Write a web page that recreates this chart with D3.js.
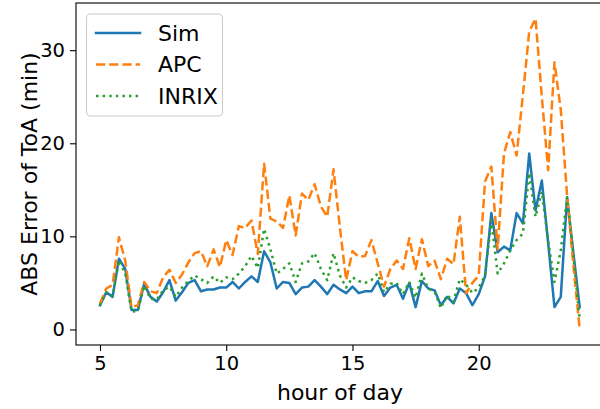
<!DOCTYPE html>
<html><head><meta charset="utf-8">
<script src="https://cdn.jsdelivr.net/npm/d3@7"></script>
<style>html,body{margin:0;padding:0;background:#fff;overflow:hidden}</style>
</head><body>
<svg id="chart" width="600" height="409"></svg>
<script>
const hours = d3.range(77).map(i => 5 + i * 0.25);
const seriesNames = ["Sim", "APC", "INRIX"];
const sim = [2.6,4.0,3.5,7.6,6.5,2.1,2.1,4.9,3.5,3.0,4.0,5.3,3.1,4.0,5.0,5.3,4.1,4.3,4.3,4.5,4.5,5.1,4.4,5.1,5.7,5.1,8.4,7.2,4.4,5.1,5.0,3.8,4.5,4.6,5.3,4.6,3.8,4.8,4.3,3.9,4.6,3.9,4.1,4.1,5.2,3.6,4.5,4.8,3.3,5.0,2.4,5.2,4.4,4.2,2.6,3.5,2.8,4.4,3.9,2.6,3.8,5.7,12.5,8.3,8.9,8.5,12.5,11.4,18.9,12.8,16.0,9.3,2.4,3.5,14.2,8.2,2.4];
const apc = [2.8,4.4,4.8,9.9,7.4,2.4,2.6,5.1,4.1,3.9,5.6,6.4,5.0,5.9,7.2,8.2,8.4,6.8,8.6,6.7,9.6,8.0,11.1,10.9,11.7,8.1,17.8,11.9,11.6,10.9,14.4,10.1,14.6,13.9,15.6,13.2,12.1,17.2,11.0,5.3,8.4,7.8,7.9,9.6,7.1,4.6,6.5,7.4,6.5,9.8,6.5,9.7,6.8,7.4,5.4,7.6,7.0,12.1,3.9,5.0,5.8,15.9,17.5,8.6,18.9,21.2,18.7,25.2,32.0,33.4,25.0,17.1,28.7,23.6,14.4,6.9,0.0];
const inrix = [2.6,4.0,3.6,7.4,6.0,1.9,2.0,4.7,3.3,3.2,4.2,4.6,3.5,4.5,5.2,5.8,5.4,5.0,5.7,5.0,5.6,5.4,6.0,6.8,7.9,6.6,10.8,8.6,6.0,6.5,7.1,5.1,7.1,7.3,8.2,6.5,5.3,8.2,5.8,4.5,5.6,5.2,5.0,5.3,6.0,4.0,4.9,5.0,3.8,5.1,3.4,6.0,4.4,4.1,2.3,3.7,3.0,5.4,4.8,3.9,4.5,5.8,11.7,6.0,7.1,8.5,9.6,10.3,16.8,12.1,14.8,9.5,5.1,8.5,14.2,7.9,1.0];
const xTicks = [5, 10, 15, 20];
const yTicks = [0, 10, 20, 30];

const svg = d3.select("#chart");
const font = "DejaVu Sans, sans-serif";
const L = 76, T = 3, B = 345, R = 603.7;
const x = d3.scaleLinear().domain([4.05, 24.95]).range([L, R]);
const y = d3.scaleLinear().domain([-1.67, 35.07]).range([B, T]);

svg.append("clipPath").attr("id","clip").append("rect")
  .attr("x", L).attr("y", T).attr("width", R - L).attr("height", B - T);

const LW = 2.5;
const styles = [
  {name: "Sim", data: sim, color: "#1f77b4", dash: null},
  {name: "APC", data: apc, color: "#ff7f0e", dash: "9.2,4"},
  {name: "INRIX", data: inrix, color: "#2ca02c", dash: "2.5,4.1"}
];

const line = d3.line().x((d, i) => x(hours[i])).y(d => y(d));
const g = svg.append("g").attr("clip-path", "url(#clip)");
styles.forEach(s => {
  g.append("path").datum(s.data).attr("d", line)
    .attr("fill", "none").attr("stroke", s.color).attr("stroke-width", LW)
    .attr("stroke-linejoin", "round")
    .attr("stroke-linecap", s.dash ? "butt" : "square")
    .attr("stroke-dasharray", s.dash);
});

// axes
const xAxis = svg.append("g").attr("transform", `translate(0,${B})`)
  .call(d3.axisBottom(x).tickValues(xTicks).tickSize(6).tickPadding(5).tickFormat(d3.format("d")));
const yAxis = svg.append("g").attr("transform", `translate(${L},0)`)
  .call(d3.axisLeft(y).tickValues(yTicks).tickSize(6).tickPadding(5).tickFormat(d3.format("d")));
[xAxis, yAxis].forEach(a => {
  a.select(".domain").remove();
  a.selectAll("line").attr("stroke", "#000").attr("stroke-width", 1.1);
  a.selectAll("text").attr("font-family", font).attr("font-size", 19.5).attr("fill", "#000");
});

// spines
svg.append("rect").attr("x", L).attr("y", T).attr("width", R - L).attr("height", B - T)
  .attr("fill", "none").attr("stroke", "#000").attr("stroke-width", 1.1);

// labels
svg.append("text").attr("x", 340).attr("y", 400).attr("text-anchor", "middle")
  .attr("font-family", font).attr("font-size", 22).text("hour of day");
svg.append("text").attr("transform", "translate(29,174) rotate(-90)").attr("text-anchor", "middle")
  .attr("dy", "0.35em").attr("font-family", font).attr("font-size", 22).text("ABS Error of ToA (min)");

// legend
const lg = svg.append("g");
lg.append("rect").attr("x", 86.5).attr("y", 14).attr("width", 136).attr("height", 102)
  .attr("rx", 4).attr("fill", "#fff").attr("fill-opacity", 0.8).attr("stroke", "#cccccc").attr("stroke-width", 1.1);
styles.forEach((s, i) => {
  const cy = 33 + i * 31.5;
  lg.append("line").attr("x1", 96).attr("x2", 140).attr("y1", cy).attr("y2", cy)
    .attr("stroke", s.color).attr("stroke-width", LW)
    .attr("stroke-dasharray", s.dash).attr("stroke-linecap", s.dash ? "butt" : "square");
  lg.append("text").attr("x", 158).attr("y", cy).attr("dy", "0.35em")
    .attr("font-family", font).attr("font-size", 22).text(seriesNames[i]);
});
</script>
</body></html>
